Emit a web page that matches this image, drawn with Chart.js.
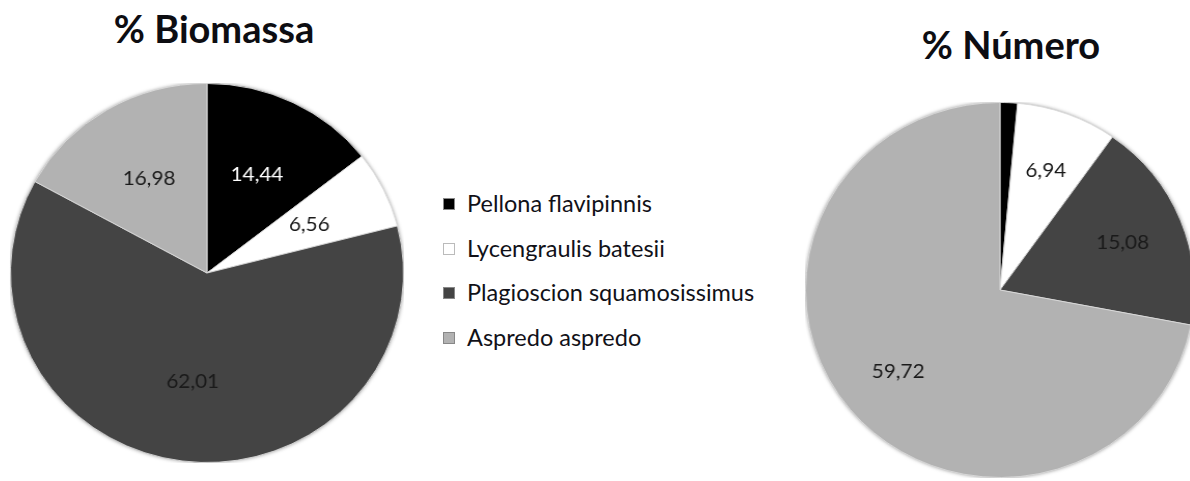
<!DOCTYPE html>
<html>
<head>
<meta charset="utf-8">
<script src="https://cdn.jsdelivr.net/npm/chart.js@4.4.1/dist/chart.umd.min.js"></script>
<style>
  body { margin: 0; width: 1190px; height: 481px; overflow: hidden; background: #fff; position: relative; font-family: Lato, "Open Sans", sans-serif; }
  .title { position: absolute; font-weight: bold; font-size: 38px; color: #0d0d12; white-space: nowrap; transform: translateX(-50%); line-height: 1; }
  .pie { position: absolute; transform: scaleX(1.037); }
  #legend { position: absolute; left: 443px; top: 189px; }
  .item { height: 44.5px; display: flex; align-items: flex-start; font-size: 23.5px; color: #111118; white-space: nowrap; }
  .swatch { width: 12px; height: 12px; margin: 9px 12px 0 0; box-sizing: border-box; border: 1px solid #888; }
</style>
</head>
<body>
<div class="title" id="titleLeft" style="left:214px; top:9px;">% Biomassa</div>
<div class="title" id="titleRight" style="left:1011px; top:25px;">% Número</div>
<div class="pie" style="left:17px; top:83px; width:380px; height:380px;"><canvas id="pieBiomassa"></canvas></div>
<div class="pie" style="left:812px; top:102px; width:376px; height:376px;"><canvas id="pieNumero"></canvas></div>
<div id="legend"></div>
<script>
const species = ['Pellona flavipinnis', 'Lycengraulis batesii', 'Plagioscion squamosissimus', 'Aspredo aspredo'];
const biomassa = [14.44, 6.56, 62.01, 16.98];
// first slice of % Número has no printed label, its size is read from the angle
const numero = [1.2, 6.94, 15.08, 59.72];
const sliceColors = ['#000000', '#ffffff', '#444444', '#b2b2b2'];
const labelColors = ['#ffffff', '#1a1a1a', '#1a1a1a', '#1a1a1a'];

// soft dark rim under the pie, like the bevel in the original
const pieShadow = {
  id: 'pieShadow',
  beforeDatasetsDraw(chart) {
    const arc = chart.getDatasetMeta(0).data[0];
    if (!arc) return;
    const { x, y, outerRadius } = arc.getProps(['x', 'y', 'outerRadius'], true);
    const { ctx } = chart;
    ctx.save();
    ctx.shadowColor = 'rgba(0,0,0,0.55)';
    ctx.shadowBlur = 4;
    ctx.beginPath();
    ctx.arc(x, y, outerRadius - 0.5, 0, Math.PI * 2);
    ctx.fillStyle = '#777';
    ctx.fill();
    ctx.restore();
  },
};

const sliceLabels = {
  id: 'sliceLabels',
  afterDatasetsDraw(chart, args, opts) {
    const { ctx } = chart;
    const values = chart.data.datasets[0].data;
    ctx.save();
    ctx.font = '20px Lato, sans-serif';
    ctx.textAlign = 'center';
    ctx.textBaseline = 'middle';
    chart.getDatasetMeta(0).data.forEach((arc, i) => {
      if (values[i] < opts.minValue) return;
      const p = arc.getProps(['x', 'y', 'startAngle', 'endAngle', 'outerRadius'], true);
      const mid = (p.startAngle + p.endAngle) / 2;
      const r = p.outerRadius * opts.radius;
      ctx.fillStyle = labelColors[i];
      ctx.fillText(values[i].toFixed(2).replace('.', ','), p.x + Math.cos(mid) * r, p.y + Math.sin(mid) * r);
    });
    ctx.restore();
  },
};

function makePie(id, values, labelRadius) {
  return new Chart(document.getElementById(id), {
    type: 'pie',
    data: {
      labels: species,
      datasets: [{
        data: values,
        backgroundColor: sliceColors,
        borderColor: 'rgba(220,220,220,0.9)',
        borderWidth: 1,
      }],
    },
    options: {
      responsive: true,
      maintainAspectRatio: false,
      animation: false,
      layout: { padding: 0 },
      plugins: {
        legend: { display: false },
        tooltip: { enabled: false },
        sliceLabels: { radius: labelRadius, minValue: 2 },
      },
    },
    plugins: [pieShadow, sliceLabels],
  });
}

function buildLegend() {
  const legendEl = document.getElementById('legend');
  species.forEach((name, idx) => {
    const item = document.createElement('div');
    item.className = 'item';
    const sw = document.createElement('span');
    sw.className = 'swatch';
    sw.style.background = sliceColors[idx];
    if (idx === 1) sw.style.borderColor = '#bbb';
    item.appendChild(sw);
    item.appendChild(document.createTextNode(name));
    legendEl.appendChild(item);
  });
}

makePie('pieBiomassa', biomassa, 0.58);
makePie('pieNumero', numero, 0.68);
buildLegend();
</script>
</body>
</html>
